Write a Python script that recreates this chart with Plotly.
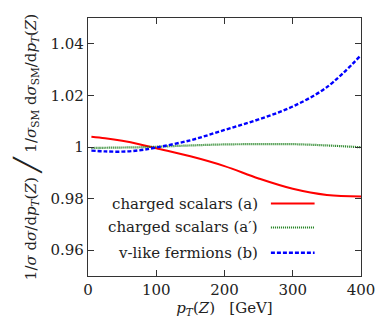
import plotly.graph_objects as go

# p_T(Z) in GeV and normalised ratios
pt = [5, 25, 50, 75, 100, 150, 200, 250, 300, 350, 400]
scalars_a = [1.0040, 1.0034, 1.0024, 1.0011, 0.9995, 0.9964, 0.9926, 0.9878, 0.9838, 0.9814, 0.9808]
scalars_a2 = [0.9996, 0.9997, 0.9998, 0.9999, 1.0001, 1.0006, 1.0010, 1.0011, 1.0011, 1.0006, 0.9999]
fermions_b = [0.9986, 0.9983, 0.9982, 0.9987, 0.9998, 1.0026, 1.0066, 1.0107, 1.0157, 1.0232, 1.0356]

labels = ["charged scalars (a)", "charged scalars (a′)", "v-like fermions (b)"]
colors = ["#ff0000", "#137a13", "#0000ff"]
dashes = ["solid", "1px,1px", "4px,2px"]
widths = [2, 2.2, 2.4]

FONT = "DejaVu Serif"
FS = 15

fig = go.Figure()
for y, c, d, w, name in zip([scalars_a, scalars_a2, fermions_b], colors, dashes, widths, labels):
    fig.add_trace(go.Scatter(x=pt, y=y, mode="lines", name=name,
                             line=dict(color=c, dash=d, width=w, shape="spline"),
                             showlegend=False))

# legend: text on the left, line sample on the right
leg_y = [0.281, 0.188, 0.09]
for lab, c, d, w, yy in zip(labels, colors, dashes, widths, leg_y):
    fig.add_annotation(x=0.63, y=yy, xref="paper", yref="paper", text=lab,
                       showarrow=False, xanchor="right", yanchor="middle",
                       font=dict(family=FONT, size=FS, color="#222"))
    fig.add_shape(type="line", xref="paper", yref="paper",
                  x0=0.67, x1=0.83, y0=yy, y1=yy,
                  line=dict(color=c, dash=d, width=w))

ytitle = ("1/<i>σ</i> d<i>σ</i>/d<i>p</i><sub><i>T</i></sub>(<i>Z</i>) "
          "<span style='font-size:25px'>╱</span> "
          "1/<i>σ</i><sub>SM</sub> d<i>σ</i><sub>SM</sub>/d<i>p</i><sub><i>T</i></sub>(<i>Z</i>)")

axis_common = dict(showgrid=False, zeroline=False, showline=True, mirror="ticks",
                   linecolor="#333", linewidth=1.3, ticks="inside", ticklen=6,
                   tickcolor="#333", tickwidth=1,
                   tickfont=dict(family=FONT, size=FS, color="#222"))

fig.update_xaxes(range=[0, 400], tickvals=[0, 100, 200, 300, 400],
                 title=dict(text="<i>p</i><sub><i>T</i></sub>(<i>Z</i>)   [GeV]",
                            font=dict(family=FONT, size=FS, color="#222"), standoff=2),
                 **axis_common)
fig.update_yaxes(range=[0.95, 1.05], tickvals=[0.96, 0.98, 1.0, 1.02, 1.04],
                 ticktext=["0.96", "0.98", "1", "1.02", "1.04"],
                 title=dict(text=ytitle, font=dict(family=FONT, size=15, color="#222"), standoff=10),
                 **axis_common)

fig.update_layout(width=387, height=325, margin=dict(l=88, r=15, t=18, b=49),
                  plot_bgcolor="white", paper_bgcolor="white",
                  font=dict(family=FONT, size=FS, color="#222"))

fig.write_html("out.html", config={"displayModeBar": False},
               post_script="document.body.style.margin='0';")
